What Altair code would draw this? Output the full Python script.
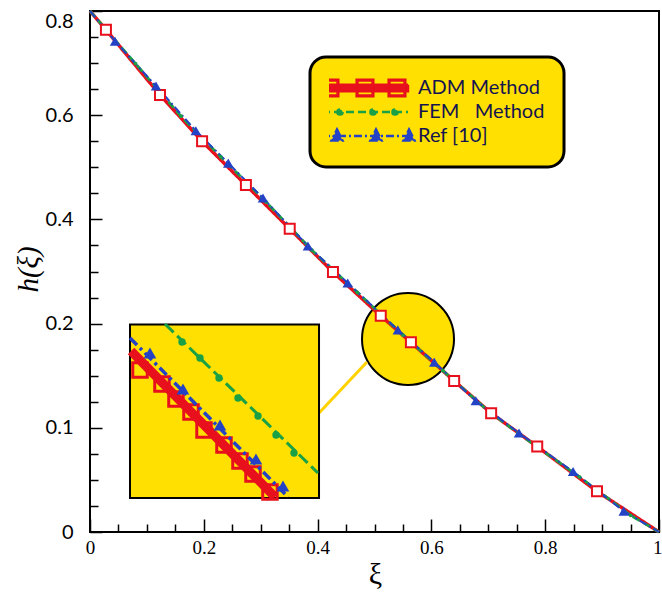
import altair as alt
import pandas as pd

# ---------------- data ----------------
SERIES = ["ADM Method", "FEM Method", "Ref [10]"]

# curve end points (shared by all three solutions)
end_xi = [0.0, 1.0]
end_h = [0.8, 0.0]

# ADM Method (red, squares)
adm_xi = [0.028, 0.123, 0.197, 0.274, 0.351, 0.427, 0.511, 0.564, 0.640, 0.705, 0.786, 0.891]
adm_h = [0.764, 0.639, 0.550, 0.466, 0.382, 0.299, 0.215, 0.182, 0.145, 0.114, 0.082, 0.039]

# FEM Method (green, circles)
fem_xi = [0.08, 0.16, 0.23, 0.31, 0.39, 0.47, 0.55, 0.62, 0.70, 0.78, 0.86, 0.95]
fem_h = [0.699, 0.598, 0.520, 0.433, 0.341, 0.260, 0.189, 0.155, 0.116, 0.084, 0.053, 0.016]

# Ref [10] (blue, triangles)
ref_xi = [0.044, 0.116, 0.186, 0.243, 0.304, 0.383, 0.453, 0.541, 0.605, 0.678, 0.754, 0.849, 0.938]
ref_h = [0.742, 0.656, 0.570, 0.508, 0.441, 0.349, 0.278, 0.194, 0.163, 0.126, 0.095, 0.058, 0.020]

# zoomed inset (values expressed in the main chart's coordinates)
inset_adm_line_xi = [0.0721, 0.3251]
inset_adm_line_h = [0.1737, 0.0336]
inset_adm_xi = [0.0879, 0.1265, 0.1511, 0.1775, 0.2004, 0.2355, 0.2636, 0.2865, 0.3163]
inset_adm_h = [0.1555, 0.1420, 0.1276, 0.1152, 0.0979, 0.0835, 0.0681, 0.0557, 0.0384]

inset_fem_line_xi = [0.1318, 0.4007]
inset_fem_line_h = [0.1996, 0.0566]
inset_fem_xi = [0.1617, 0.1933, 0.2267, 0.2601, 0.2953, 0.3269, 0.3585]
inset_fem_h = [0.1823, 0.1670, 0.1478, 0.1286, 0.1113, 0.0931, 0.0758]

inset_ref_line_xi = [0.0703, 0.3480]
inset_ref_line_h = [0.1862, 0.0336]
inset_ref_xi = [0.1054, 0.1634, 0.2285, 0.2917, 0.3392]
inset_ref_h = [0.1718, 0.1372, 0.1027, 0.0701, 0.0441]

# axis ticks
x_major = [0, 0.2, 0.4, 0.6, 0.8, 1]
x_minor = [0.05, 0.1, 0.15, 0.25, 0.3, 0.35, 0.45, 0.5, 0.55, 0.65, 0.7, 0.75, 0.85, 0.9, 0.95]
y_major = [0, 0.1, 0.2, 0.4, 0.6, 0.8]
y_minor = [0.025, 0.05, 0.075, 0.125, 0.15, 0.175, 0.25, 0.3, 0.35, 0.45, 0.5, 0.55, 0.65, 0.7, 0.75]

# ---------------- styles ----------------
RED = "#E8101C"
GREEN = "#1AA145"
BLUE = "#2442C6"
YELLOW = "#FFE000"
W, H = 569, 521
DASHES = [[1, 0], [8, 4], [8, 3, 2, 3]]

# zoom annotation geometry (data coordinates)
inset_box = dict(x=0.0703, x2=0.4025, y=0.1991, y2=0.0326)
magnifier = dict(x=0.5589, y=0.1852)
connector = dict(x=0.4025, y=0.1142, x2=0.4868, y2=0.1631)

X_SCALE = alt.Scale(domain=[0, 1], nice=False, zero=False)
Y_SCALE = alt.Scale(domain=y_major, range=[H, H * 0.8, H * 0.6, H * 0.4, H * 0.2, 0], nice=False, zero=False)


def major_test(vals):
    return "indexof([" + ",".join(str(v) for v in vals) + "], datum.value) >= 0"


X_LABEL_AXIS = alt.Axis(
    orient="bottom", values=x_major, format="~g", ticks=False, domain=False, grid=False,
    labelFont="Liberation Serif", labelFontSize=19, labelColor="black", labelPadding=6,
    labelFlush=False,
    labelAlign={"condition": {"test": "datum.value == 1", "value": "right"}, "value": "center"},
    labelOffset={"condition": {"test": "datum.value == 1", "value": 3}, "value": 0},
    title="ξ", titleFont="Liberation Serif", titleFontSize=30,
    titleFontWeight="normal", titleX=285, titleY=42, titleAlign="center", titleBaseline="middle",
    titleColor="black",
)
Y_LABEL_AXIS = alt.Axis(
    orient="left", values=y_major, format="~g", ticks=False, domain=False, grid=False,
    labelFont="Lato", labelFontSize=20, labelColor="black", labelPadding=17, labelFlush=False,
    labelBaseline={"condition": {"test": "datum.value == 0.8", "value": "top"}, "value": "middle"},
    title="h(ξ)", titleFont="Liberation Serif", titleFontStyle="italic", titleFontSize=29,
    titleFontWeight="normal", titleAngle=270, titleX=-62, titleY=258, titleAlign="center",
    titleBaseline="middle", titleColor="black",
)
X_TICK_AXIS = alt.Axis(
    orient="top", offset=-H, values=sorted(x_major + x_minor), labels=False, domain=False,
    grid=False, title=None, tickColor="black", tickWidth=1.5,
    tickSize={"condition": {"test": major_test(x_major), "value": 13}, "value": 8},
)
Y_TICK_AXIS = alt.Axis(
    orient="right", offset=-W, values=sorted(y_major + y_minor), labels=False, domain=False,
    grid=False, title=None, tickColor="black", tickWidth=1.5,
    tickSize={"condition": {"test": major_test(y_major), "value": 12}, "value": 8},
)

# ---------------- tables ----------------
def table(series, xs, hs):
    return pd.DataFrame({"series": series, "xi": xs, "h": hs})

lines_df = pd.concat([
    table(SERIES[0], end_xi[:1] + adm_xi + end_xi[1:], end_h[:1] + adm_h + end_h[1:]),
    table(SERIES[1], end_xi[:1] + fem_xi + end_xi[1:], end_h[:1] + fem_h + end_h[1:]),
    table(SERIES[2], end_xi[:1] + ref_xi + end_xi[1:], end_h[:1] + ref_h + end_h[1:]),
])
one = pd.DataFrame({"k": [0]})

# ---------------- legend sample symbols (unit box: 1 unit = 43 px) ----------------
U = 43.0
SHIFT = -8.5  # px, moves the drawn sample left inside its symbol box

def u(px):
    return px / U

LINE = f"M{u(-43 + SHIFT):.3f},0H{u(43 + SHIFT):.3f}"

def adm_symbol(centers=(-35, 0, 32)):
    # thick bar + hollow squares (outer ring clockwise, inner hole counter-clockwise)
    bh = u(3.2)
    parts = [f"M{u(-43 + SHIFT):.3f},{-bh:.3f}H{u(43 + SHIFT):.3f}V{bh:.3f}H{u(-43 + SHIFT):.3f}Z"]
    a, b = u(8.3), u(7.6)
    for c in centers:
        c = u(c + SHIFT)
        parts.append(f"M{c - a:.3f},{-a:.3f}h{2 * a:.3f}v{2 * a:.3f}h{-2 * a:.3f}Z")
        parts.append(f"M{c - b:.3f},{-b:.3f}v{2 * b:.3f}h{2 * b:.3f}v{-2 * b:.3f}Z")
    return " ".join(parts)

def fem_symbol(centers=(-25, 8, 30)):
    r = u(2.6)
    parts = [LINE]
    for c in centers:
        c = u(c + SHIFT)
        parts.append(f"M{c - r:.3f},0a{r:.3f},{r:.3f} 0 1,0 {2 * r:.3f},0a{r:.3f},{r:.3f} 0 1,0 {-2 * r:.3f},0Z")
    return " ".join(parts)

def ref_symbol(centers=(-28, 11, 44)):
    hw, top, bot = u(5.5), u(6.5), u(4.5)
    parts = [LINE]
    for c in centers:
        c = u(c + SHIFT)
        parts.append(f"M{c:.3f},{-top:.3f}L{c + hw:.3f},{bot:.3f}L{c - hw:.3f},{bot:.3f}Z")
    return " ".join(parts)

LEGEND_PATHS = [adm_symbol(), fem_symbol(), ref_symbol()]

LEG_PAD = 19
LEGEND = alt.Legend(
    orient="none", legendX=220, legendY=46, padding=LEG_PAD, title=None,
    symbolSize=int(2 * U) ** 2, symbolStrokeWidth=2.5, symbolOpacity=1, clipHeight=24, rowPadding=0,
    labelFont="Lato", labelFontSize=20, labelColor="#141450", labelOffset=0,
    labelExpr="datum.label == 'FEM Method' ? 'FEM\u00a0\u00a0\u00a0Method' : datum.label",
    fillColor=YELLOW, strokeColor="black", cornerRadius=16, zindex=1,
)

# ---------------- layers ----------------
def xenc(axis=None):
    return alt.X("xi:Q", scale=X_SCALE, axis=axis)

def yenc(axis=None):
    return alt.Y("h:Q", scale=Y_SCALE, axis=axis)

def xd(v):
    return alt.XDatum(v, scale=X_SCALE, axis=None)

def yd(v):
    return alt.YDatum(v, scale=Y_SCALE, axis=None)

circle_layer = alt.Chart(one).mark_point(
    shape="circle", size=92 * 92, filled=True, fill=YELLOW, stroke="black", strokeWidth=2, opacity=1
).encode(x=xd(magnifier["x"]), y=yd(magnifier["y"]))

connector_layer = alt.Chart(one).mark_rule(color="#FFD200", strokeWidth=3).encode(
    x=xd(connector["x"]), y=yd(connector["y"]),
    x2=alt.X2Datum(connector["x2"]), y2=alt.Y2Datum(connector["y2"]),
)

inset_rect = alt.Chart(one).mark_rect(fill=YELLOW, stroke="black", strokeWidth=2).encode(
    x=xd(inset_box["x"]), x2=alt.X2Datum(inset_box["x2"]),
    y=yd(inset_box["y"]), y2=alt.Y2Datum(inset_box["y2"]),
)

inset_fem_line = alt.Chart(table("FEM", inset_fem_line_xi, inset_fem_line_h)).mark_line(
    color=GREEN, strokeWidth=3, strokeDash=[12, 5]).encode(x=xenc(), y=yenc())
inset_fem_pts = alt.Chart(table("FEM", inset_fem_xi, inset_fem_h)).mark_point(
    shape="circle", filled=True, color=GREEN, size=55, opacity=1).encode(x=xenc(), y=yenc())

inset_adm_line = alt.Chart(table("ADM", inset_adm_line_xi, inset_adm_line_h)).mark_line(
    color=RED, strokeWidth=9).encode(x=xenc(), y=yenc())
inset_adm_pts = alt.Chart(table("ADM", inset_adm_xi, inset_adm_h)).mark_point(
    shape="square", filled=False, color=RED, size=210, strokeWidth=3, opacity=1).encode(x=xenc(), y=yenc())

inset_ref_line = alt.Chart(table("Ref", inset_ref_line_xi, inset_ref_line_h)).mark_line(
    color=BLUE, strokeWidth=3.5, strokeDash=[10, 4, 3, 4]).encode(x=xenc(), y=yenc())
inset_ref_pts = alt.Chart(table("Ref", inset_ref_xi, inset_ref_h)).mark_point(
    shape="triangle-up", filled=True, color=BLUE, size=160, opacity=1).encode(x=xenc(), y=yenc())

main_lines = alt.Chart(lines_df).mark_line().encode(
    x=xenc(X_LABEL_AXIS),
    y=yenc(Y_LABEL_AXIS),
    color=alt.Color("series:N", scale=alt.Scale(domain=SERIES, range=[RED, GREEN, BLUE]), legend=None),
    strokeDash=alt.StrokeDash("series:N", scale=alt.Scale(domain=SERIES, range=DASHES), legend=None),
    strokeWidth=alt.StrokeWidth("series:N", scale=alt.Scale(domain=SERIES, range=[3.5, 2, 2.2]), legend=None),
    order=alt.Order("xi:Q"),
)

fem_markers = alt.Chart(table(SERIES[1], fem_xi, fem_h)).mark_point(
    shape="circle", filled=True, color=GREEN, size=14, opacity=1).encode(x=xenc(), y=yenc())
adm_markers = alt.Chart(table(SERIES[0], adm_xi, adm_h)).mark_point(
    shape="square", filled=True, fill="white", stroke=RED, strokeWidth=2, size=100, opacity=1
).encode(x=xenc(X_TICK_AXIS), y=yenc(Y_TICK_AXIS))
ref_markers = alt.Chart(table(SERIES[2], ref_xi, ref_h)).mark_point(
    shape="triangle-up", filled=True, color=BLUE, size=110, opacity=1).encode(x=xenc(), y=yenc())

# invisible layer that only carries the legend (its symbols show line + markers)
legend_layer = alt.Chart(pd.DataFrame({"series": SERIES})).mark_point(opacity=0).encode(
    shape=alt.Shape("series:N", scale=alt.Scale(domain=SERIES, range=LEGEND_PATHS), legend=LEGEND),
    fill=alt.Fill("series:N", scale=alt.Scale(domain=SERIES, range=[RED, GREEN, BLUE])),
    stroke=alt.Stroke("series:N", scale=alt.Scale(domain=SERIES, range=[RED, GREEN, BLUE])),
    strokeDash=alt.StrokeDash("series:N", scale=alt.Scale(domain=SERIES, range=DASHES)),
)

chart = alt.layer(
    circle_layer, connector_layer, inset_rect,
    inset_fem_line, inset_fem_pts, inset_adm_line, inset_adm_pts, inset_ref_line, inset_ref_pts,
    main_lines, fem_markers, adm_markers, ref_markers, legend_layer,
).resolve_scale(
    shape="independent", fill="independent", stroke="independent", strokeDash="independent"
).resolve_axis(
    x="independent", y="independent"
).properties(
    width=W, height=H,
    autosize=alt.AutoSizeParams(type="none"),
    padding={"left": 90, "top": 11, "right": 3, "bottom": 64},
    background="white",
).configure_view(
    stroke="black", strokeWidth=2
).configure_legend(
    strokeWidth=3
)

chart.save("out.html", embed_options={"renderer": "svg", "actions": False})
